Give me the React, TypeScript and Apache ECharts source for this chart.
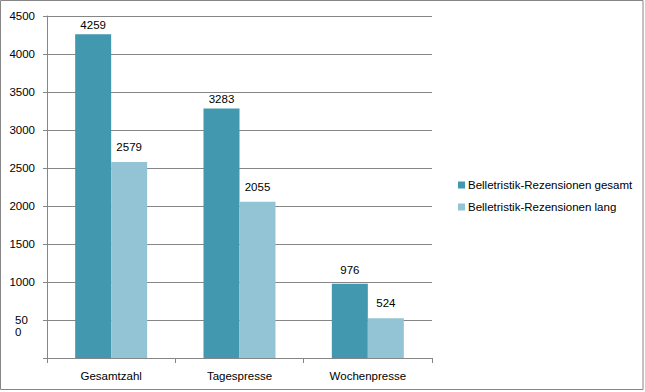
import React, { useEffect, useRef } from "react";
import * as echarts from "echarts";

const categories = ["Gesamtzahl", "Tagespresse", "Wochenpresse"];
const seriesNames = ["Belletristik-Rezensionen gesamt", "Belletristik-Rezensionen lang"];
const gesamt = [4259, 3283, 976];
const lang = [2579, 2055, 524];
const colors = ["#4198AF", "#93C4D5"];

export default function App() {
  const ref = useRef<HTMLDivElement>(null);
  useEffect(() => {
    document.body.style.margin = "0";
    const chart = echarts.init(ref.current!, null, { renderer: "svg" });
    const font = "Liberation Sans, Arial, sans-serif";
    const fs = 11.5;
    const gesamtDist = [3, 3, 8];
    const langDist = [9, 9, 9];
    const labelBase = { show: true, position: "top", color: "#000", fontSize: fs, fontFamily: font };
    chart.setOption({
      animation: false,
      backgroundColor: "#ffffff",
      textStyle: { fontFamily: font },
      graphic: [
        {
          type: "rect",
          shape: { x: 0.5, y: 0.5, width: 642.5, height: 389 },
          style: { fill: "none", stroke: "#868686", lineWidth: 1 },
          silent: true,
        },
      ],
      grid: { left: 47, right: 213, top: 16, bottom: 34 },
      legend: {
        orient: "vertical",
        left: 453,
        top: 174,
        itemWidth: 7,
        itemHeight: 7,
        itemGap: 10,
        icon: "rect",
        textStyle: { fontSize: fs, color: "#000", fontFamily: font, padding: [0, 0, 0, -2] },
        data: seriesNames,
      },
      xAxis: {
        type: "category",
        data: categories,
        axisLine: { show: true, lineStyle: { color: "#868686" } },
        axisTick: { show: true, length: 5, alignWithLabel: false, lineStyle: { color: "#868686" } },
        axisLabel: { color: "#000", fontSize: fs, margin: 12, fontFamily: font },
      },
      yAxis: {
        type: "value",
        min: 0,
        max: 4500,
        interval: 500,
        axisLine: { show: true, lineStyle: { color: "#868686" } },
        axisTick: { show: true, length: 4, lineStyle: { color: "#868686" } },
        splitLine: { show: true, lineStyle: { color: "#868686" } },
        axisLabel: {
          color: "#000",
          fontSize: fs,
          margin: 12,
          fontFamily: font,
          formatter: (v: number) => {
            if (v === 0) return "";
            if (v === 500) return "{w| }\n{w|50}\n{w|0}";
            return String(v);
          },
          rich: {
            w: { width: 20, align: "left", lineHeight: 12, fontSize: fs, color: "#000", fontFamily: font },
          },
        },
      },
      series: [
        {
          name: seriesNames[0],
          type: "bar",
          data: gesamt.map((v, i) => ({ value: v, label: { distance: gesamtDist[i] } })),
          barWidth: 36,
          barGap: "0%",
          itemStyle: { color: colors[0] },
          label: labelBase,
        },
        {
          name: seriesNames[1],
          type: "bar",
          data: lang.map((v, i) => ({ value: v, label: { distance: langDist[i] } })),
          barWidth: 36,
          barGap: "0%",
          itemStyle: { color: colors[1] },
          label: labelBase,
        },
      ],
    });
    return () => chart.dispose();
  }, []);
  return (
    <div
      ref={ref}
      style={{ position: "absolute", left: 0, top: 0, width: 645, height: 392 }}
    />
  );
}
